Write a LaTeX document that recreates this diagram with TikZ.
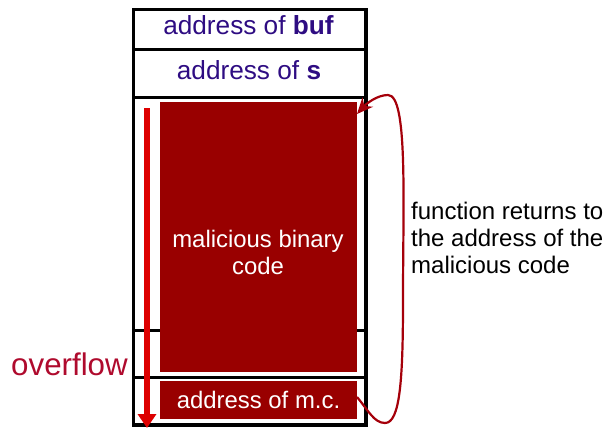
\documentclass[tikz,border=0pt]{standalone}
\usepackage{fontspec}
\setmainfont{Liberation Sans}
\usetikzlibrary{arrows.meta}
\definecolor{labelblue}{RGB}{46,12,130}
\definecolor{codered}{RGB}{153,0,0}
\definecolor{flowred}{RGB}{221,0,0}
\definecolor{curvered}{RGB}{165,0,10}
\definecolor{overred}{RGB}{175,10,45}
\tikzset{
  frame/.style={draw=black, line width=3.5pt},
  divider/.style={draw=black, line width=3pt},
  codebox/.style={fill=codered, draw=none},
  slotlabel/.style={text=labelblue, font=\fontsize{26.2}{30}\selectfont, anchor=base, inner sep=0pt},
  codelabel/.style={text=white, font=\fontsize{23.9}{27}\selectfont, align=center, inner sep=0pt},
  sidenote/.style={text=black, font=\fontsize{24}{26.8}\selectfont, align=left, anchor=north west, inner sep=0pt},
}
\begin{document}
\begin{tikzpicture}[x=1pt, y=-1pt]
\useasboundingbox (0,0) rectangle (608,428);
% stack frame outline and slot dividers
\draw[frame] (133.5,9.5) rectangle (366,425);
\draw[divider] (133.5,50) -- (366,50);
\draw[divider] (133.5,97.5) -- (366,97.5);
\draw[divider] (133.5,330) -- (366,330);
\draw[divider] (133.5,377) -- (366,377);
% injected code and overwritten return address
\path[codebox] (160,102) rectangle (357,372);
\path[codebox] (160,381) rectangle (357,419);
\node[coordinate] (codetop) at (357,114) {};
\node[coordinate] (retaddr) at (357,397) {};
% slot labels
\node[slotlabel] (buf) at (248.5,35) {address of \textbf{buf}};
\node[slotlabel] (s) at (249,80) {address of \textbf{s}};
\node[codelabel] (mal) at (258,252) {malicious binary\\code};
\node[codelabel, anchor=base] (mc) at (258.5,408) {address of m.c.};
% overflow direction
\node[coordinate] (ovstart) at (147,108) {};
\node[coordinate] (ovend) at (147,428) {};
\draw[flowred, line width=6pt, -{Triangle[width=18pt,length=14pt]}] (ovstart) -- (ovend);
\node[text=overred, font=\fontsize{31.3}{34}\selectfont, anchor=base west, inner sep=0pt] (overflow) at (11,375) {overflow};
% return jump back into the injected code
\draw[curvered, line width=2.2pt, -{Stealth[length=16pt,width=14pt]}]
  (retaddr) .. controls (368,410) and (374,423) .. (385,423)
  .. controls (400,423) and (403,380) .. (403,300)
  .. controls (403,200) and (408,95) .. (388,95)
  .. controls (377,95) and (366,104) .. (codetop);
\node[sidenote] (note) at (411,202) {function returns to\\the address of the\\malicious code};
\end{tikzpicture}
\end{document}
